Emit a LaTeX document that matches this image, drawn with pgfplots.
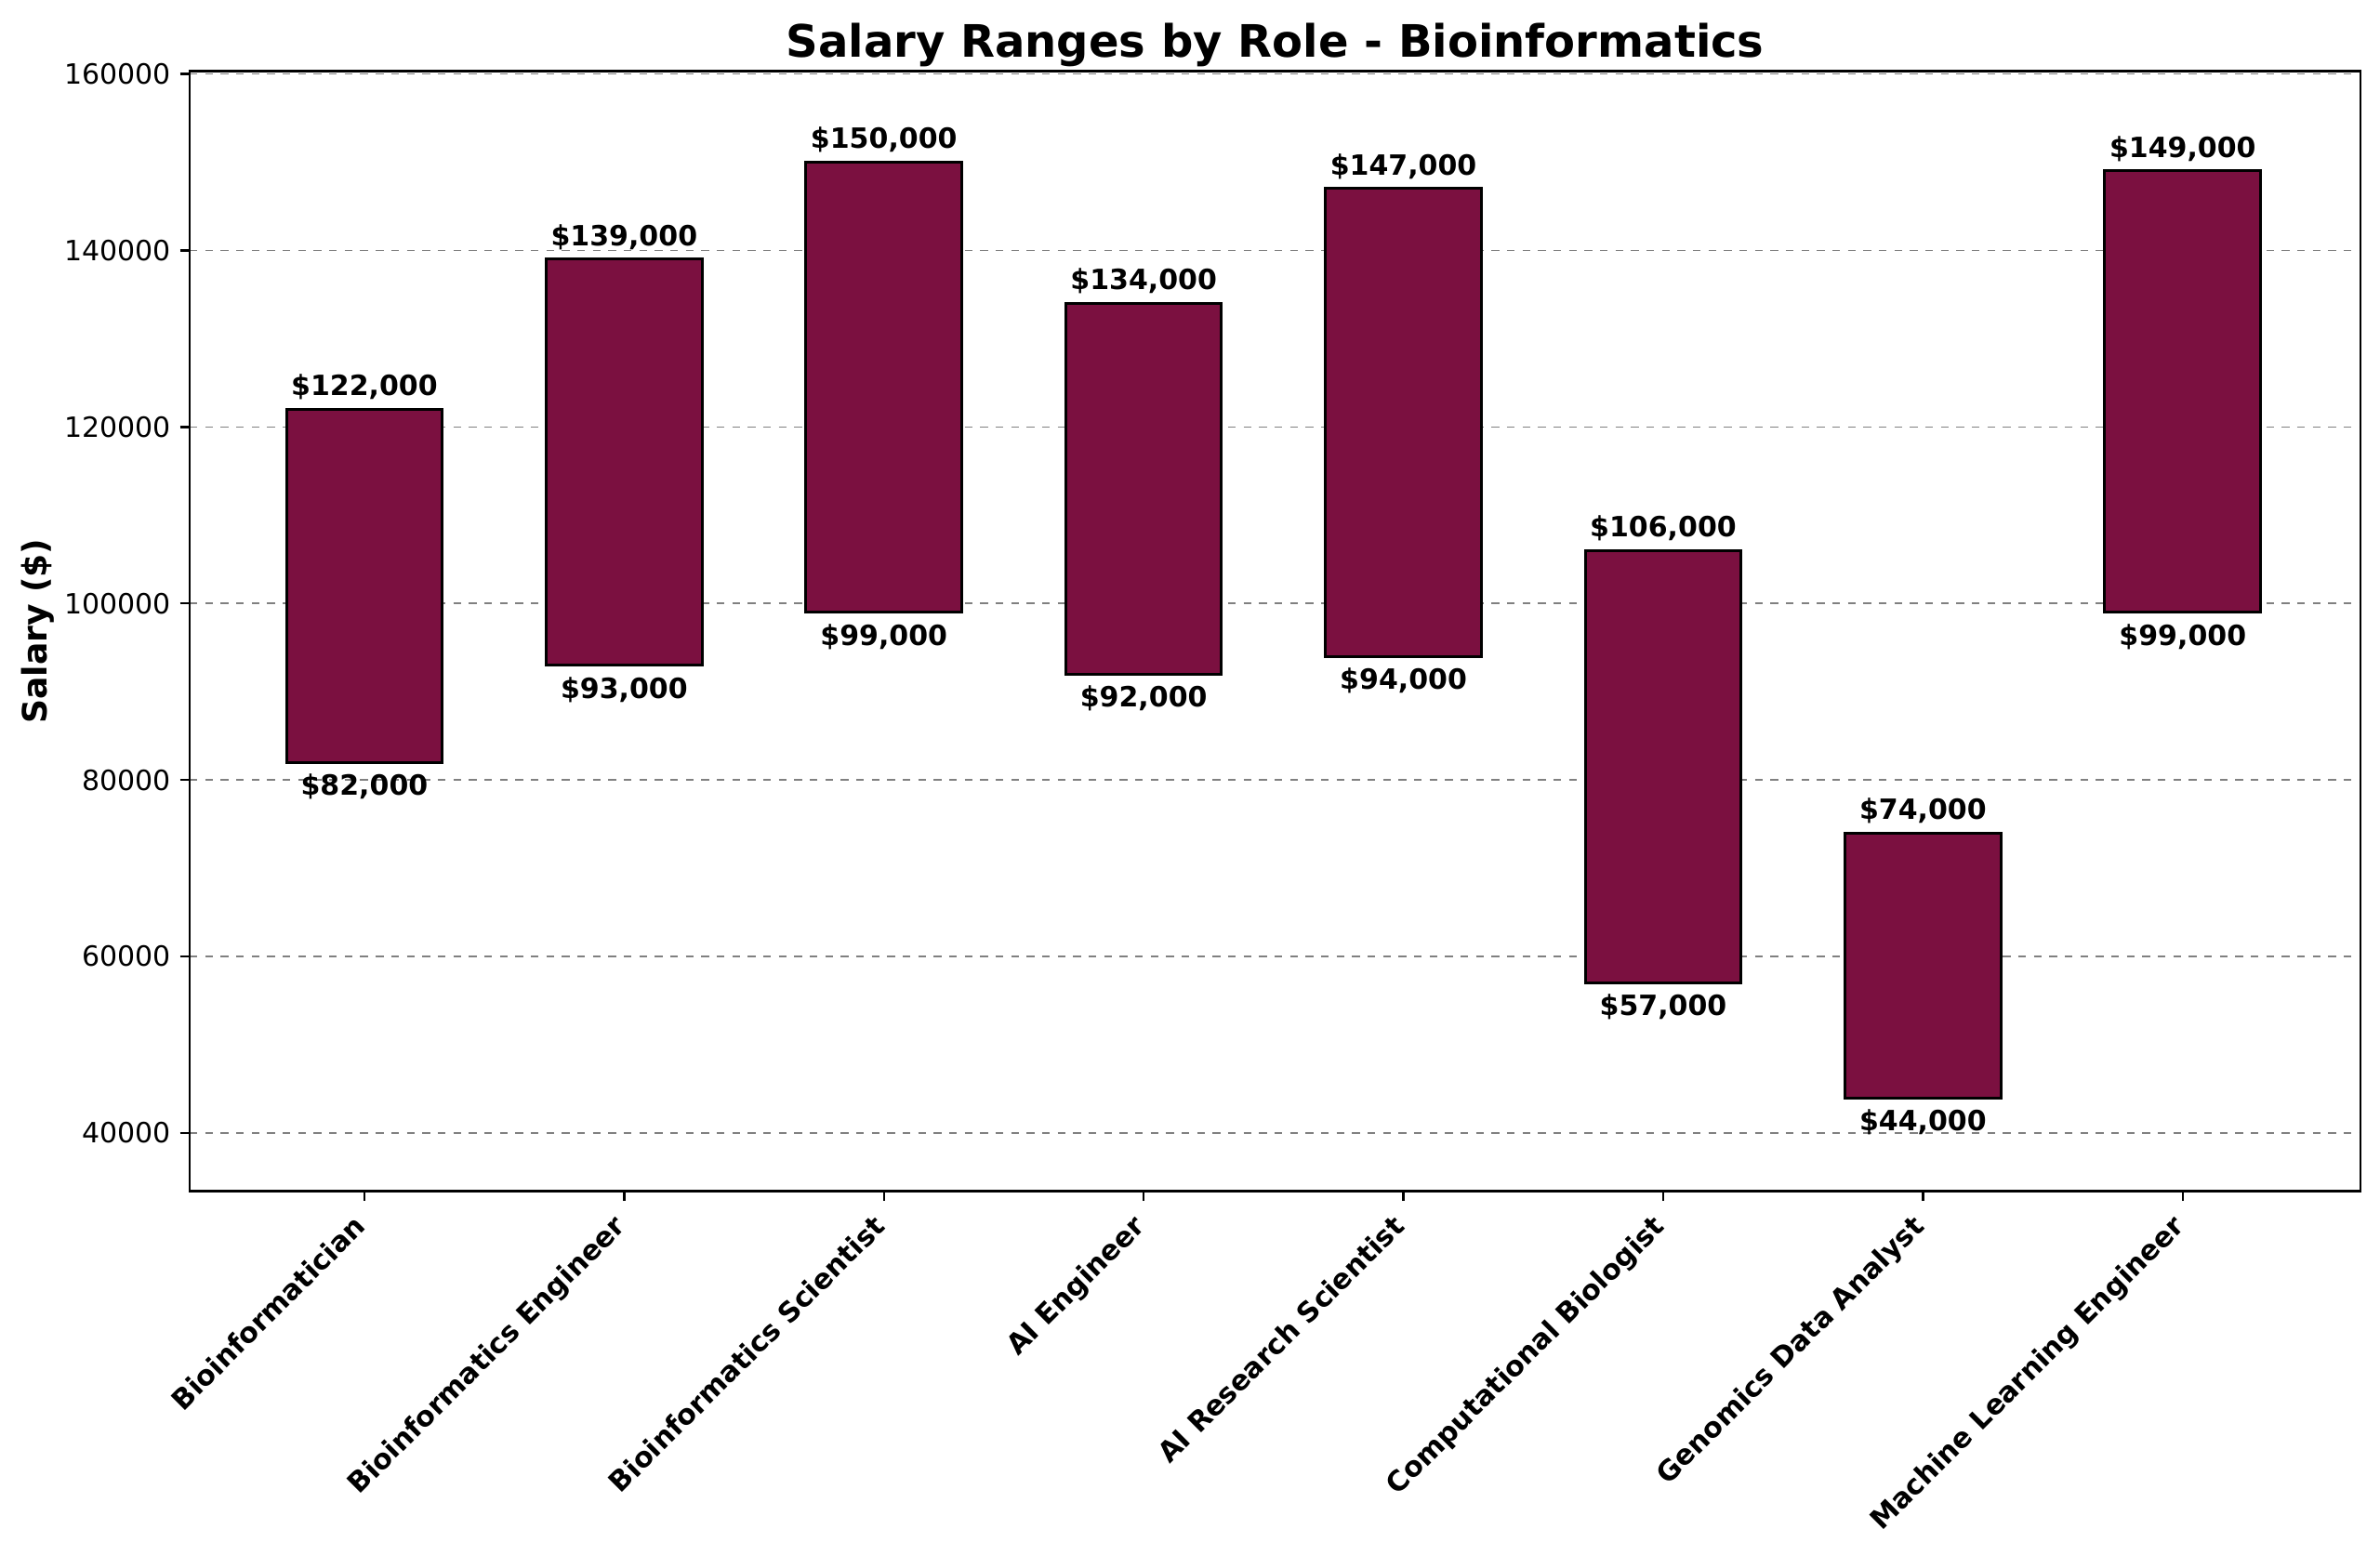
\documentclass[border=0pt]{standalone}
\usepackage{pgfplots}
\pgfplotsset{compat=1.18}
\usepackage{pgfplotstable}
\usepackage{fontspec}
\setmainfont{DejaVu Sans}
\definecolor{barc}{RGB}{123,16,64}
\pgfplotstableread{
x low high lowlab highlab
0 82000 122000 82,000 122,000
1 93000 139000 93,000 139,000
2 99000 150000 99,000 150,000
3 92000 134000 92,000 134,000
4 94000 147000 94,000 147,000
5 57000 106000 57,000 106,000
6 44000 74000 44,000 74,000
7 99000 149000 99,000 149,000
}\salary
\pgfplotsset{
  common/.style={
    at={(0,0)}, anchor=south west,
    scale only axis, width=840.5pt, height=433.8pt,
    xmin=-0.672, xmax=7.684, ymin=33400, ymax=160300,
  },
}
\begin{document}
\begin{tikzpicture}
\useasboundingbox (-73.5pt,-140.6pt) rectangle (848.1pt,461.4pt);
\begin{axis}[
  common,
  /pgf/number format/assume math mode=true,
  /pgf/number format/fixed,
  /pgf/number format/precision=0,
  /pgf/number format/1000 sep={},
  ybar stacked, bar width=0.6,
  xtick={0,...,7},
  xticklabels={Bioinformatician,Bioinformatics Engineer,Bioinformatics Scientist,AI Engineer,AI Research Scientist,Computational Biologist,Genomics Data Analyst,Machine Learning Engineer},
  x tick label style={xshift=-4.7pt, yshift=-3pt, rotate=45, anchor=north east, inner sep=1pt, font=\bfseries\fontsize{10.8}{13}\selectfont},
  ytick={40000,60000,...,160000},
  scaled y ticks=false,
  y tick label style={font=\fontsize{10.8}{13}\selectfont},
  ymajorgrids, grid style={dashed, gray, line width=0.55pt},
  tick align=outside, xtick pos=bottom, ytick pos=left, major tick length=3.8pt,
  tick style={black, line width=0.86pt},
  axis line style={line width=0.86pt},
  title={Salary Ranges by Role - Bioinformatics},
  title style={font=\bfseries\fontsize{17.3}{20}\selectfont, at={(0.5,1)}, anchor=base, yshift=-0.5pt},
  ylabel={Salary (\$)},
  ylabel style={font=\bfseries\fontsize{13}{15}\selectfont, yshift=-3pt},
]
\addplot[fill=none, draw=none] table[x=x, y=low]{\salary};
\addplot[fill=barc, draw=black, line width=1.08pt]
  table[x=x, y expr=\thisrow{high}-\thisrow{low}]{\salary};
\end{axis}
\begin{axis}[
  common, hide axis,
  point meta=explicit symbolic,
  nodes near coords={\$\pgfplotspointmeta},
]
\addplot[only marks, mark=*, mark size=0pt, mark options={draw=none, fill=none},
  nodes near coords style={anchor=north, inner sep=0pt, yshift=-4.3pt, text=black, font=\bfseries\fontsize{10.8}{13}\selectfont}]
  table[x=x, y=low, meta=lowlab]{\salary};
\addplot[only marks, mark=*, mark size=0pt, mark options={draw=none, fill=none},
  nodes near coords style={anchor=south, inner sep=0pt, yshift=3.5pt, text=black, font=\bfseries\fontsize{10.8}{13}\selectfont}]
  table[x=x, y=high, meta=highlab]{\salary};
\end{axis}
\end{tikzpicture}
\end{document}
